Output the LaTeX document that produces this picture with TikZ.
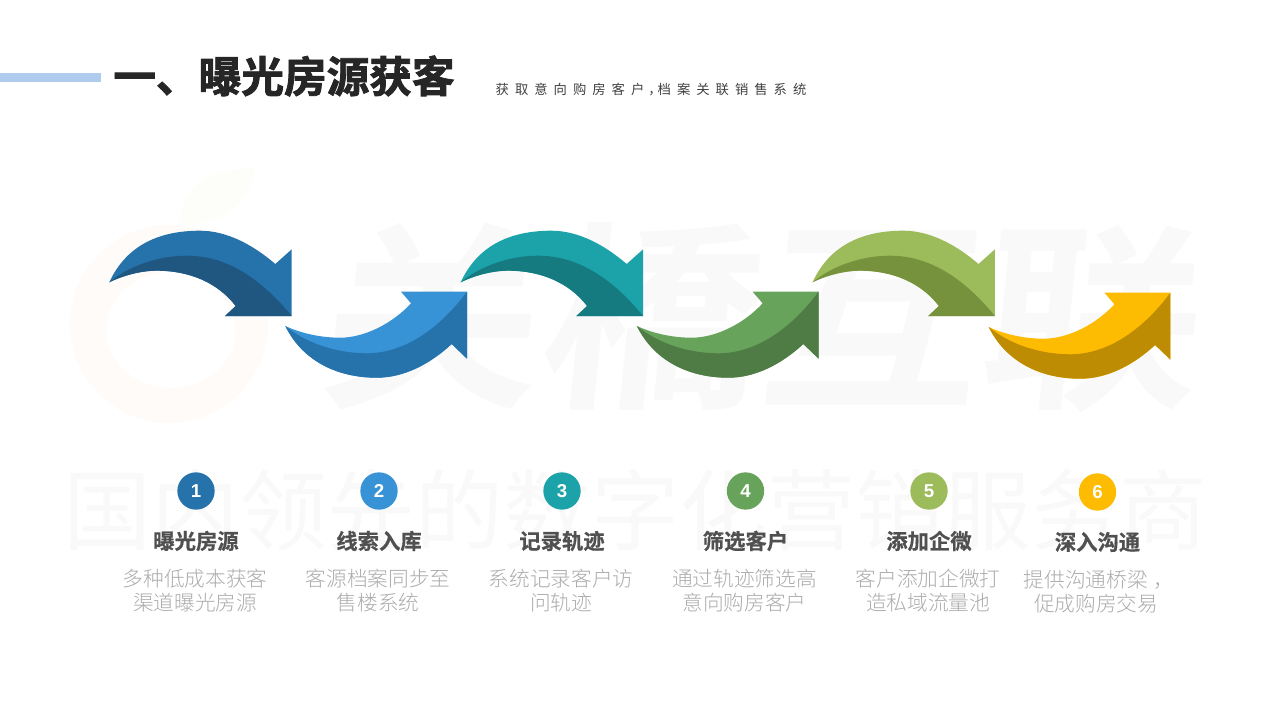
\documentclass[tikz,border=0pt]{standalone}
\usepackage{fontspec}
\setmainfont{Noto Sans CJK SC}
\newfontfamily\cjk[UprightFont={* Light}]{Noto Sans CJK SC}
\newfontfamily\cjkplain{Noto Sans CJK SC}
\newfontfamily\cjkmark[UprightFont={* Bold}]{Noto Sans CJK SC}
\newfontfamily\cjkbold[UprightFont={* Bold},FakeBold=0.6]{Noto Sans CJK SC}
\newfontfamily\cjkheavy[UprightFont={* Bold},FakeBold=2]{Noto Sans CJK SC}
\newfontfamily\cjkwide[LetterSpace=45]{Noto Sans CJK SC}
\newfontfamily\numfont{Liberation Sans}
\definecolor{wmgrey}{HTML}{F9F9F9}
\definecolor{wmring}{HTML}{FEFBF8}
\definecolor{wmleaf}{HTML}{FDFDFA}
\definecolor{barblue}{HTML}{AFCBEE}
\definecolor{headgrey}{HTML}{262626}
\definecolor{subgrey}{HTML}{404040}
\definecolor{namegrey}{HTML}{505050}
\definecolor{descgrey}{HTML}{ABABAB}
\definecolor{blueA}{HTML}{2672AA}
\definecolor{blueAd}{HTML}{1F5780}
\definecolor{blueB}{HTML}{3792D6}
\definecolor{blueBd}{HTML}{2672AA}
\definecolor{tealC}{HTML}{1BA3A9}
\definecolor{tealCd}{HTML}{167B80}
\definecolor{greenD}{HTML}{68A35C}
\definecolor{greenDd}{HTML}{4F7B45}
\definecolor{oliveE}{HTML}{9CBB5A}
\definecolor{oliveEd}{HTML}{77923C}
\definecolor{amberF}{HTML}{FDBB02}
\definecolor{amberFd}{HTML}{BD8C03}
\tikzset{
  numdot/.style={circle,minimum size=28pt,inner sep=0pt,text=white,font=\numfont\bfseries\fontsize{14}{14}\selectfont},
  stepname/.style={text=namegrey,inner sep=0pt,font=\cjkbold\fontsize{16}{16}\selectfont},
  stepdesc/.style={text=descgrey,inner sep=0pt,align=center,font=\cjk\fontsize{15.5}{18}\selectfont},
  pics/overarrow/.style 2 args={code={
    \fill[#1] (109.3,282.3) .. controls (126,246) and (158,230.7) .. (200,230.7)
      .. controls (226,230.7) and (252,244) .. (275.3,264) -- (291.7,249.3) -- (291.7,316)
      -- (225,316) -- (235.7,306) .. controls (218,283) and (190,270.7) .. (156.7,270.7)
      .. controls (140,270.7) and (122,276) .. (109.3,282.3) -- cycle;
    \fill[#2] (109.3,282.3) .. controls (130,265) and (160,255.7) .. (186.7,255.7)
      .. controls (228,255.7) and (262,280) .. (291.7,316)
      -- (225,316) -- (235.7,306) .. controls (218,283) and (190,270.7) .. (156.7,270.7)
      .. controls (140,270.7) and (122,276) .. (109.3,282.3) -- cycle;
  }},
  pics/underarrow/.style 2 args={code={
    \fill[#1] (285.3,326) .. controls (302,360) and (336,377.7) .. (376.7,377.7)
      .. controls (404,377.7) and (430,364) .. (451.7,344) -- (467,358.7) -- (467,291.7)
      -- (401,291.7) -- (411,303.3) .. controls (393,323) and (365,337.7) .. (340,337.7)
      .. controls (318,337.7) and (298,332) .. (285.3,326) -- cycle;
    \fill[#2] (285.3,326) .. controls (302,360) and (336,377.7) .. (376.7,377.7)
      .. controls (404,377.7) and (430,364) .. (451.7,344) -- (467,358.7) -- (467,291.7)
      .. controls (440,328) and (405,353.3) .. (366.7,353.3)
      .. controls (338,353.3) and (307,344) .. (285.3,326) -- cycle;
  }}
}
\begin{document}
\begin{tikzpicture}[x=0.75pt,y=-0.75pt]
\useasboundingbox (0,0) rectangle (1280,720);
% faint mark behind everything
\fill[wmring,even odd rule] (169,324) ellipse [x radius=99,y radius=99] (171,330) ellipse [x radius=65,y radius=58];
\fill[wmleaf] (180,225) .. controls (182,185) and (205,170) .. (255,168) .. controls (248,205) and (225,225) .. (180,225) -- cycle;
\node (wmbrand) at (764,318) [text=wmgrey,inner sep=0pt,xslant=0.1,xscale=1.1,transform shape,font=\cjkmark\fontsize{150}{150}\selectfont] {关橋互联};
\node (wmline) at (635,510) [text=wmgrey,inner sep=0pt,font=\cjkplain\fontsize{66}{66}\selectfont] {国内领先的数字化营销服务商};
% heading
\fill[barblue] (0,72.7) rectangle (100.7,82);
\node (heading) at (284,76) [text=headgrey,inner sep=0pt,font=\cjkheavy\fontsize{32}{32}\selectfont] {一、曝光房源获客};
\node (subheading) at (651,89.5) [text=subgrey,inner sep=0pt,font=\cjkwide\fontsize{10}{10}\selectfont] {获取意向购房客户\hspace{3pt}，\hspace{-3pt}档案关联销售系统};
% arrows
\pic at (0,0) {overarrow={blueA}{blueAd}};
\pic at (0,0) {underarrow={blueB}{blueBd}};
\pic at (351.4,0) {overarrow={tealC}{tealCd}};
\pic at (351.6,0) {underarrow={greenD}{greenDd}};
\pic at (703.2,0) {overarrow={oliveE}{oliveEd}};
\pic at (703.4,1) {underarrow={amberF}{amberFd}};
% numbered steps
\node (dot1) at (196,491) [numdot,fill=blueA] {1};
\node (dot2) at (379,491) [numdot,fill=blueB] {2};
\node (dot3) at (562,491) [numdot,fill=tealC] {3};
\node (dot4) at (745.5,491) [numdot,fill=greenD] {4};
\node (dot5) at (929,491) [numdot,fill=oliveE] {5};
\node (dot6) at (1097.5,492) [numdot,fill=amberF] {6};
\node (name1) at (196,541) [stepname] {曝光房源};
\node (name2) at (379,541) [stepname] {线索入库};
\node (name3) at (562,541) [stepname] {记录轨迹};
\node (name4) at (745.5,541) [stepname] {筛选客户};
\node (name5) at (929,541) [stepname] {添加企微};
\node (name6) at (1097.5,542) [stepname] {深入沟通};
\node (desc1) at (195,591) [stepdesc] {多种低成本获客\\渠道曝光房源};
\node (desc2) at (378,591) [stepdesc] {客源档案同步至\\售楼系统};
\node (desc3) at (561,591) [stepdesc] {系统记录客户访\\问轨迹};
\node (desc4) at (744.5,591) [stepdesc] {通过轨迹筛选高\\意向购房客户};
\node (desc5) at (928,591) [stepdesc] {客户添加企微打\\造私域流量池};
\node (desc6) at (1096,592) [stepdesc] {提供沟通桥梁\hspace{4pt}，\hspace*{-4pt}\\促成购房交易};
\end{tikzpicture}
\end{document}
